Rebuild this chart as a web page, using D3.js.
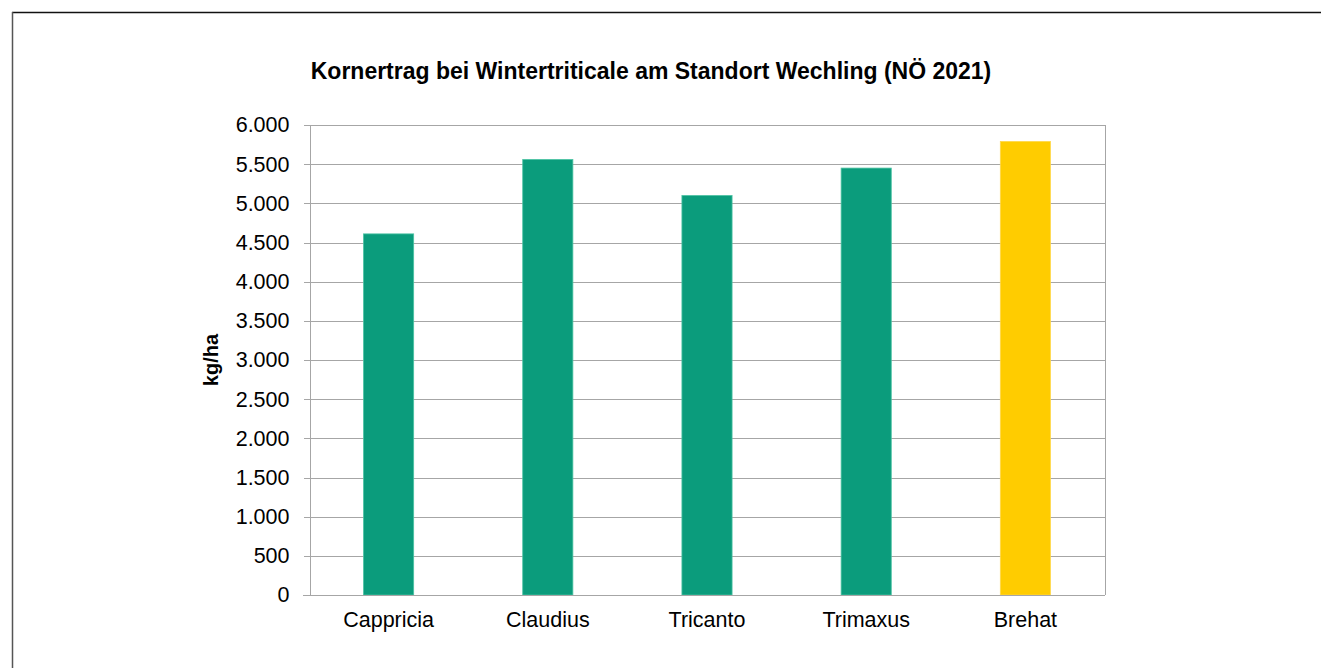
<!DOCTYPE html>
<html>
<head>
<meta charset="utf-8">
<style>
html, body {
  margin: 0;
  background: #fff;
  overflow: hidden;
}
text {
  font-family: "Liberation Sans", Arial, Helvetica, sans-serif;
  fill: #000;
}
.grid line {
  stroke: #a6a6a6;
  stroke-width: 1px;
}
.axis path, .axis line {
  stroke: #a6a6a6;
  shape-rendering: crispEdges;
}
.axis text {
  font-size: 21.5px;
}
</style>
<script src="https://d3js.org/d3.v7.min.js"></script>
</head>
<body>
<svg width="1321" height="668"></svg>
<script>
var sorten = ["Cappricia", "Claudius", "Tricanto", "Trimaxus", "Brehat"];
var ertrag = [4610, 5560, 5100, 5450, 5790];
var farben = ["#0b9c7c", "#0b9c7c", "#0b9c7c", "#0b9c7c", "#ffcc00"];
var yTicks = [0, 500, 1000, 1500, 2000, 2500, 3000, 3500, 4000, 4500, 5000, 5500, 6000];

var svg = d3.select("svg");
var width = 1321, height = 668;

// outer frame (only top and left visible)
svg.append("line").attr("x1", 12).attr("y1", 12.5).attr("x2", width).attr("y2", 12.5)
   .attr("stroke", "#111").attr("stroke-width", 1.5);
svg.append("line").attr("x1", 12.5).attr("y1", 12).attr("x2", 12.5).attr("y2", height)
   .attr("stroke", "#555").attr("stroke-width", 1.5);

var plotL = 309, plotR = 1105, plotT = 125, plotB = 595;

var x = d3.scaleBand()
    .domain(sorten)
    .range([plotL, plotR])
    .paddingInner(0.685)
    .paddingOuter(0.3425);

var y = d3.scaleLinear()
    .domain([0, 6000])
    .range([plotB, plotT]);

var fmt = d3.formatLocale({decimal: ",", thousands: ".", grouping: [3], currency: ["", " €"]}).format(",d");

// gridlines
svg.append("g").attr("class", "grid")
  .selectAll("line")
  .data(yTicks.slice(1))
  .enter().append("line")
    .attr("x1", plotL).attr("x2", plotR)
    .attr("y1", d => Math.round(y(d)) + 0.5)
    .attr("y2", d => Math.round(y(d)) + 0.5);

// right border of plot area
svg.append("line")
  .attr("x1", plotR + 0.5).attr("x2", plotR + 0.5)
  .attr("y1", plotT).attr("y2", plotB)
  .attr("stroke", "#a6a6a6");

// bars
svg.append("g")
  .selectAll("rect")
  .data(sorten)
  .enter().append("rect")
    .attr("x", d => x(d))
    .attr("width", x.bandwidth())
    .attr("y", (d, i) => y(ertrag[i]))
    .attr("height", (d, i) => y(0) - y(ertrag[i]))
    .attr("fill", (d, i) => farben[i])
    .attr("stroke", (d, i) => i < 4 ? "#4cc3a3" : "#ffd84d")
    .attr("stroke-width", 0.8);

// y axis
var yAxis = svg.append("g").attr("class", "axis")
  .attr("transform", "translate(" + (plotL + 0.5) + ",0)")
  .call(d3.axisLeft(y).tickValues(yTicks).tickFormat(fmt).tickSize(6).tickSizeOuter(0).tickPadding(14));

// x axis
var xAxis = svg.append("g").attr("class", "axis")
  .attr("transform", "translate(0," + (plotB + 0.5) + ")")
  .call(d3.axisBottom(x).tickSize(0).tickSizeOuter(0).tickPadding(16));
xAxis.select(".domain").attr("d", "M" + (plotL - 6) + ",0H" + plotR);

// axis title
svg.append("text")
  .attr("transform", "translate(218," + ((plotT + plotB) / 2) + ") rotate(-90)")
  .attr("text-anchor", "middle")
  .style("font-size", "20px")
  .style("font-weight", "bold")
  .text("kg/ha");

// chart title
svg.append("text")
  .attr("x", 651)
  .attr("y", 79)
  .attr("text-anchor", "middle")
  .style("font-size", "23px")
  .style("font-weight", "bold")
  .text("Kornertrag bei Wintertriticale am Standort Wechling (NÖ 2021)");
</script>
</body>
</html>
